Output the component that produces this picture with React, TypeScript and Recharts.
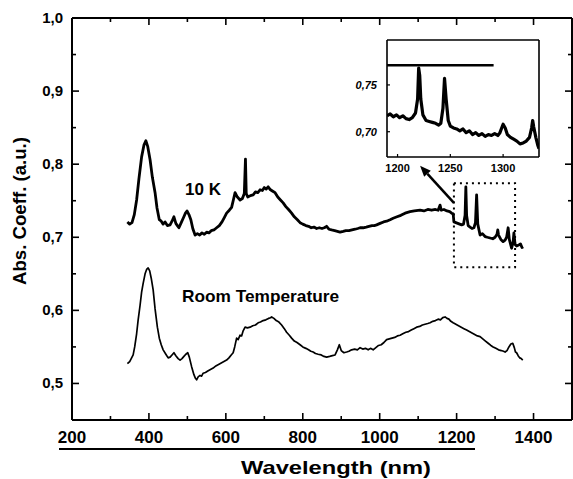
import React from "react";
import { LineChart, Line, XAxis, YAxis, ReferenceArea, ReferenceLine } from "recharts";

// ---- data ----
const wl10K = [344,350,356,362,368,374,381,387,392,397,403,409,416,421,427,432,437,442,448,455,460,465,470,474,478,484,490,495,499,504,509,514,520,526,532,538,544,550,556,562,569,576,583,590,596,602,609,615,620,624,630,637,643,648,651,653,657,664,671,677,683,689,695,700,705,710,716,722,728,735,742,749,756,763,771,778,786,793,800,808,815,822,829,836,843,850,856,862,868,875,883,890,897,905,912,920,928,936,943,949,957,965,972,980,986,992,1001,1010,1018,1027,1035,1045,1055,1066,1079,1090,1105,1115,1125,1135,1145,1152,1157,1160,1167,1175,1182,1187,1191,1193,1198,1203,1208,1213,1218,1222,1224,1226,1230,1235,1240,1245,1249,1252,1255,1261,1267,1274,1280,1287,1294,1300,1305,1307,1309,1315,1321,1326,1330,1334,1337,1343,1347,1349,1352,1356,1360,1366,1370,1373];
const abs10K = [0.721,0.718,0.720,0.731,0.751,0.780,0.810,0.826,0.832,0.824,0.806,0.782,0.761,0.740,0.724,0.722,0.718,0.721,0.716,0.717,0.722,0.728,0.719,0.716,0.713,0.720,0.727,0.733,0.736,0.731,0.724,0.712,0.703,0.705,0.703,0.706,0.704,0.707,0.706,0.709,0.710,0.713,0.716,0.721,0.727,0.733,0.737,0.741,0.752,0.761,0.755,0.751,0.753,0.760,0.807,0.760,0.755,0.757,0.758,0.762,0.761,0.765,0.764,0.768,0.766,0.769,0.765,0.763,0.761,0.755,0.751,0.747,0.742,0.738,0.733,0.728,0.724,0.720,0.718,0.716,0.715,0.713,0.714,0.712,0.713,0.712,0.713,0.715,0.711,0.710,0.709,0.708,0.707,0.708,0.709,0.709,0.710,0.711,0.712,0.713,0.713,0.714,0.715,0.716,0.716,0.717,0.719,0.721,0.722,0.724,0.726,0.728,0.730,0.733,0.735,0.736,0.737,0.736,0.738,0.737,0.738,0.737,0.744,0.737,0.738,0.736,0.735,0.733,0.732,0.721,0.720,0.719,0.718,0.717,0.718,0.730,0.769,0.730,0.716,0.714,0.712,0.713,0.720,0.758,0.718,0.703,0.705,0.701,0.700,0.699,0.698,0.700,0.704,0.710,0.703,0.697,0.694,0.696,0.700,0.713,0.697,0.685,0.694,0.706,0.690,0.688,0.689,0.691,0.686,0.687];

const wlRT = [344,350,355,359,363,368,372,377,381,385,390,394,398,402,406,411,416,422,427,432,437,444,450,455,460,465,470,476,481,486,491,496,501,505,511,517,521,524,528,533,537,541,547,553,560,567,574,581,588,595,602,608,614,619,623,628,632,637,641,645,650,656,663,670,677,684,690,697,704,711,716,719,725,731,738,745,752,758,765,771,778,785,793,800,808,815,821,827,833,840,848,855,862,870,877,884,890,895,900,907,914,920,927,935,942,949,956,963,970,976,983,990,997,1004,1011,1018,1025,1032,1039,1046,1053,1060,1068,1075,1082,1089,1096,1104,1111,1118,1125,1131,1138,1145,1152,1158,1164,1170,1175,1180,1185,1191,1198,1205,1212,1219,1226,1233,1240,1247,1254,1261,1268,1275,1282,1289,1295,1302,1309,1316,1322,1326,1331,1336,1341,1346,1350,1353,1356,1360,1364,1368,1372];
const absRT = [0.527,0.530,0.535,0.539,0.550,0.568,0.587,0.607,0.625,0.637,0.650,0.656,0.658,0.654,0.644,0.628,0.602,0.577,0.562,0.553,0.546,0.540,0.535,0.536,0.539,0.542,0.538,0.534,0.532,0.534,0.537,0.540,0.542,0.536,0.523,0.512,0.507,0.505,0.509,0.511,0.510,0.514,0.515,0.517,0.519,0.521,0.524,0.526,0.528,0.530,0.532,0.535,0.539,0.542,0.550,0.562,0.560,0.566,0.565,0.572,0.577,0.576,0.577,0.579,0.580,0.583,0.584,0.586,0.587,0.589,0.590,0.591,0.589,0.586,0.584,0.580,0.575,0.570,0.566,0.562,0.558,0.556,0.553,0.550,0.548,0.546,0.544,0.543,0.541,0.540,0.539,0.537,0.536,0.537,0.538,0.539,0.546,0.553,0.545,0.542,0.543,0.544,0.546,0.547,0.546,0.549,0.547,0.548,0.546,0.548,0.546,0.549,0.552,0.553,0.556,0.560,0.561,0.562,0.563,0.565,0.566,0.568,0.570,0.571,0.573,0.575,0.577,0.578,0.580,0.581,0.582,0.583,0.585,0.586,0.588,0.587,0.590,0.591,0.589,0.588,0.585,0.583,0.581,0.579,0.577,0.575,0.573,0.571,0.569,0.567,0.565,0.564,0.561,0.558,0.555,0.552,0.550,0.548,0.546,0.545,0.544,0.543,0.545,0.550,0.554,0.555,0.549,0.543,0.542,0.538,0.535,0.534,0.532];

const wlInset = [1190,1193,1196,1199,1202,1205,1208,1211,1214,1217,1219,1220,1221,1222,1224,1227,1230,1233,1236,1239,1241,1243,1244.5,1246,1248,1250,1253,1256,1259,1262,1265,1268,1271,1274,1277,1280,1283,1286,1289,1292,1295,1297,1299,1300,1302,1304,1307,1310,1313,1316,1319,1322,1325,1327,1328,1329,1331,1333,1334];
const absInset = [0.717,0.719,0.716,0.718,0.715,0.717,0.714,0.713,0.715,0.720,0.735,0.768,0.760,0.735,0.718,0.712,0.711,0.710,0.709,0.707,0.709,0.725,0.757,0.735,0.712,0.706,0.704,0.703,0.701,0.703,0.699,0.701,0.697,0.699,0.696,0.698,0.695,0.697,0.696,0.698,0.696,0.699,0.705,0.708,0.704,0.697,0.694,0.692,0.690,0.687,0.688,0.690,0.694,0.704,0.712,0.705,0.694,0.685,0.682];

const xTicks = [200,300,400,500,600,700,800,900,1000,1100,1200,1300,1400];
const yTicks = [0.5,0.55,0.6,0.65,0.7,0.75,0.8,0.85,0.9,0.95,1.0];
const insetXTicks = [1200,1250,1300];
const insetYTicks = [0.70,0.75];

const data10K = wl10K.map((w, i) => ({ w, a: abs10K[i] }));
const dataRT = wlRT.map((w, i) => ({ w, a: absRT[i] }));
const dataInset = wlInset.map((w, i) => ({ w, a: absInset[i] }));

const FONT = '"Liberation Sans", Arial, sans-serif';

const isMajorX = (v: number) => v % 200 === 0;
const isMajorY = (v: number) => Math.round(v * 100) % 10 === 0;
const fmtY = (v: number) => v.toFixed(1).replace(".", ",");

const BottomTick = (p: any) => {
  const { x, y, payload } = p;
  const major = isMajorX(payload.value);
  return (
    <g>
      <line x1={x} x2={x} y1={y} y2={y - (major ? 7 : 4)} stroke="#000" strokeWidth={1.6} />
      {major && (
        <text x={x} y={y + 23} textAnchor="middle" fontFamily={FONT} fontWeight="bold" fontSize={17} fill="#000">
          {payload.value}
        </text>
      )}
    </g>
  );
};
const TopTick = (p: any) => {
  const { x, y, payload } = p;
  const major = isMajorX(payload.value);
  return <line x1={x} x2={x} y1={y} y2={y + (major ? 7 : 4)} stroke="#000" strokeWidth={1.6} />;
};
const LeftTick = (p: any) => {
  const { x, y, payload } = p;
  const major = isMajorY(payload.value);
  return (
    <g>
      <line x1={x} x2={x + (major ? 7 : 4)} y1={y} y2={y} stroke="#000" strokeWidth={1.6} />
      {major && (
        <text x={x - 9} y={y + 5} textAnchor="end" fontFamily={FONT} fontWeight="bold" fontSize={15} fill="#000">
          {fmtY(payload.value)}
        </text>
      )}
    </g>
  );
};
const RightTick = (p: any) => {
  const { x, y, payload } = p;
  const major = isMajorY(payload.value);
  return <line x1={x} x2={x - (major ? 7 : 4)} y1={y} y2={y} stroke="#000" strokeWidth={1.6} />;
};

const InsetBottomTick = (p: any) => {
  const { x, y, payload } = p;
  return (
    <g>
      <line x1={x} x2={x} y1={y} y2={y - 3} stroke="#000" strokeWidth={1.2} />
      <text x={x} y={y + 15} textAnchor="middle" fontFamily={FONT} fontWeight="bold" fontSize={11} fill="#000">
        {payload.value}
      </text>
    </g>
  );
};
const InsetLeftTick = (p: any) => {
  const { x, y, payload } = p;
  return (
    <g>
      <line x1={x} x2={x + 3} y1={y} y2={y} stroke="#000" strokeWidth={1.2} />
      <text x={x - 10} y={y + 4} textAnchor="end" fontFamily={FONT} fontWeight="bold" fontStyle="italic" fontSize={11} fill="#000">
        {payload.value.toFixed(2).replace(".", ",")}
      </text>
    </g>
  );
};

const Arrow = (p: any) => {
  const { x1, y1, x2, y2 } = p;
  const ang = Math.atan2(y2 - y1, x2 - x1);
  const L = 11, W = 4.5;
  const bx = x2 - L * Math.cos(ang);
  const by = y2 - L * Math.sin(ang);
  const px = -Math.sin(ang) * W;
  const py = Math.cos(ang) * W;
  return (
    <g>
      <line x1={x1} y1={y1} x2={bx} y2={by} stroke="#000" strokeWidth={2.5} />
      <polygon points={`${x2},${y2} ${bx + px},${by + py} ${bx - px},${by - py}`} fill="#000" />
    </g>
  );
};

const axisLine = { stroke: "#000", strokeWidth: 2 };

export default function App() {
  return (
    <div style={{ position: "absolute", left: 0, top: 0, width: 573, height: 479, background: "#fff", overflow: "hidden" }}>
      <LineChart width={573} height={479} margin={{ top: 17, right: 0, bottom: 58, left: 0 }}>
        <XAxis dataKey="w" type="number" domain={[200, 1500]} ticks={xTicks} interval={0} height={1}
          tickSize={0} tickMargin={0} tickLine={false} axisLine={axisLine} stroke="#000" tick={<BottomTick />} allowDataOverflow />
        <XAxis xAxisId="top" orientation="top" dataKey="w" type="number" domain={[200, 1500]} ticks={xTicks} interval={0} height={1}
          tickSize={0} tickMargin={0} tickLine={false} axisLine={axisLine} stroke="#000" tick={<TopTick />} allowDataOverflow />
        <YAxis type="number" domain={[0.45, 1.0]} ticks={yTicks} interval={0} width={72}
          tickSize={0} tickMargin={0} tickLine={false} axisLine={axisLine} stroke="#000" tick={<LeftTick />} allowDataOverflow />
        <YAxis yAxisId="right" orientation="right" type="number" domain={[0.45, 1.0]} ticks={yTicks} interval={0} width={1}
          tickSize={0} tickMargin={0} tickLine={false} axisLine={axisLine} stroke="#000" tick={<RightTick />} allowDataOverflow />
        <Line data={data10K} dataKey="a" stroke="#000" strokeWidth={2.8} dot={false} isAnimationActive={false} strokeLinejoin="round" />
        <Line data={dataRT} dataKey="a" stroke="#000" strokeWidth={1.7} dot={false} isAnimationActive={false} strokeLinejoin="round" />
        <ReferenceArea x1={1193} x2={1352} y1={0.659} y2={0.774} fill="none" fillOpacity={0}
          stroke="#000" strokeWidth={2} strokeDasharray="2 4" ifOverflow="visible" />
        <ReferenceLine segment={[{ x: 1193, y: 0.747 }, { x: 1105, y: 0.798 }]} shape={Arrow} ifOverflow="visible" />
      </LineChart>

      <div style={{ position: "absolute", left: 340, top: 30 }}>
        <LineChart width={205} height={150} data={dataInset} margin={{ top: 9, right: 5, bottom: 0, left: 0 }}>
          <XAxis dataKey="w" type="number" domain={[1190, 1334]} ticks={insetXTicks} interval={0} height={23}
            tickSize={0} tickMargin={0} tickLine={false} axisLine={{ stroke: "#000", strokeWidth: 1.6 }} stroke="#000" tick={<InsetBottomTick />} allowDataOverflow />
          <XAxis xAxisId="t" orientation="top" dataKey="w" type="number" domain={[1190, 1334]} height={1}
            tick={false} tickLine={false} axisLine={{ stroke: "#000", strokeWidth: 1.6 }} stroke="#000" allowDataOverflow />
          <YAxis type="number" domain={[0.673, 0.798]} ticks={insetYTicks} interval={0} width={47}
            tickSize={0} tickMargin={0} tickLine={false} axisLine={{ stroke: "#000", strokeWidth: 1.6 }} stroke="#000" tick={<InsetLeftTick />} allowDataOverflow />
          <YAxis yAxisId="r" orientation="right" type="number" domain={[0.673, 0.798]} width={1}
            tick={false} tickLine={false} axisLine={{ stroke: "#000", strokeWidth: 1.6 }} stroke="#000" allowDataOverflow />
          <ReferenceLine segment={[{ x: 1190, y: 0.771 }, { x: 1291, y: 0.771 }]} stroke="#000" strokeWidth={2.5} ifOverflow="visible" />
          <Line dataKey="a" stroke="#000" strokeWidth={3.2} dot={false} isAnimationActive={false} strokeLinejoin="round" />
        </LineChart>
      </div>

      <svg width={573} height={479} style={{ position: "absolute", left: 0, top: 0, pointerEvents: "none" }}>
        <text transform="translate(26,211) rotate(-90)" textAnchor="middle" fontFamily={FONT} fontWeight="bold"
          fontSize={19} textLength={148} lengthAdjust="spacingAndGlyphs" fill="#000">Abs. Coeff. (a.u.)</text>
        <line x1={59} x2={475} y1={449} y2={449} stroke="#000" strokeWidth={2} />
        <text x={336} y={474} textAnchor="middle" fontFamily={FONT} fontWeight="bold" fontSize={19}
          textLength={190} lengthAdjust="spacingAndGlyphs" fill="#000">Wavelength (nm)</text>
        <text x={185} y={195} fontFamily={FONT} fontWeight="bold" fontSize={17} fill="#000">10 K</text>
        <text x={182} y={302} fontFamily={FONT} fontWeight="bold" fontSize={17} textLength={157}
          lengthAdjust="spacingAndGlyphs" fill="#000">Room Temperature</text>
      </svg>
    </div>
  );
}
